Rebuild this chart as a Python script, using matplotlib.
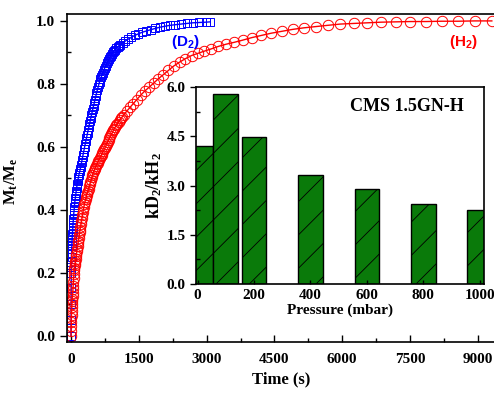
import numpy as np
import matplotlib
matplotlib.use("Agg")
import matplotlib.pyplot as plt
from matplotlib.ticker import MultipleLocator, FormatStrFormatter

plt.rcParams['font.family'] = ['Liberation Serif', 'DejaVu Serif']
plt.rcParams['font.weight'] = 'bold'
plt.rcParams['mathtext.default'] = 'regular'
plt.rcParams['hatch.linewidth'] = 0.6

# uptake curves
t_h2 = [0, 2, 4, 6, 8, 10, 13, 16, 20, 24, 28, 32, 37, 42, 47, 52, 58, 64, 70, 76,
        83, 90, 97, 104, 112, 120, 128, 136, 145, 153, 162, 171, 180, 189, 199,
        209, 219, 229, 240, 251, 262, 273, 285, 297, 309, 321, 334, 347, 360, 373,
        387, 401, 415, 429, 444, 459, 474, 489, 505, 521, 537, 553, 570, 587, 604,
        621, 639, 657, 675, 693, 712, 731, 750, 769, 789, 809, 829, 849, 870, 891,
        912, 933, 955, 977, 1000, 1025, 1050, 1077, 1105, 1135, 1165, 1230, 1300,
        1375, 1455, 1540, 1630, 1725, 1825, 1930, 2040, 2155, 2275, 2400, 2530,
        2665, 2805, 2950, 3100, 3260, 3430, 3610, 3800, 4000, 4210, 4430, 4660,
        4900, 5150, 5410, 5680, 5960, 6250, 6550, 6860, 7180, 7510, 7850, 8200,
        8560, 8930, 9310]
m_h2 = [0.000, 0.016, 0.030, 0.043, 0.055, 0.066, 0.080, 0.090, 0.100, 0.109, 0.118,
        0.127, 0.137, 0.147, 0.158, 0.170, 0.183, 0.197, 0.210, 0.216, 0.223, 0.230,
        0.237, 0.244, 0.252, 0.260, 0.268, 0.276, 0.285, 0.293, 0.302, 0.311, 0.320,
        0.328, 0.337, 0.346, 0.355, 0.364, 0.374, 0.383, 0.392, 0.401, 0.410, 0.418,
        0.426, 0.433, 0.440, 0.447, 0.454, 0.461, 0.467, 0.474, 0.481, 0.488, 0.496,
        0.503, 0.510, 0.517, 0.523, 0.529, 0.534, 0.539, 0.544, 0.549, 0.554, 0.559,
        0.564, 0.570, 0.575, 0.581, 0.586, 0.592, 0.597, 0.603, 0.609, 0.615, 0.621,
        0.627, 0.633, 0.640, 0.646, 0.652, 0.658, 0.663, 0.668, 0.674, 0.679, 0.685,
        0.690, 0.696, 0.702, 0.713, 0.725, 0.737, 0.750, 0.764, 0.777, 0.789, 0.802,
        0.816, 0.829, 0.843, 0.857, 0.869, 0.880, 0.890, 0.897, 0.904, 0.911, 0.919,
        0.926, 0.932, 0.939, 0.947, 0.954, 0.961, 0.967, 0.973, 0.978, 0.982, 0.986,
        0.990, 0.992, 0.994, 0.996, 0.997, 0.998, 0.998, 0.999, 0.999, 1.000, 1.000]

t_d2 = [0, 1, 2, 3, 5, 6, 8, 10, 12, 14, 17, 20, 23, 26, 30, 34, 38, 42, 47, 52, 57,
        62, 68, 74, 80, 86, 93, 100, 107, 114, 122, 130, 138, 146, 155, 164, 173,
        182, 192, 202, 212, 222, 233, 244, 255, 266, 278, 290, 302, 314, 327, 340,
        353, 366, 380, 394, 408, 422, 437, 452, 467, 482, 498, 514, 530, 546, 563,
        580, 597, 614, 632, 650, 668, 687, 706, 726, 746, 767, 788, 810, 832, 855,
        878, 902, 926, 951, 976, 1002, 1028, 1055, 1083, 1140, 1200, 1265, 1335,
        1410, 1490, 1575, 1665, 1760, 1860, 1965, 2075, 2190, 2310, 2435, 2565,
        2700, 2840, 2985, 3080]
m_d2 = [0.000, 0.050, 0.100, 0.150, 0.200, 0.218, 0.235, 0.249, 0.262, 0.274, 0.285,
        0.295, 0.305, 0.314, 0.323, 0.333, 0.343, 0.352, 0.362, 0.372, 0.382, 0.391,
        0.400, 0.410, 0.420, 0.428, 0.436, 0.444, 0.452, 0.460, 0.468, 0.476, 0.483,
        0.490, 0.497, 0.504, 0.511, 0.516, 0.522, 0.528, 0.535, 0.543, 0.551, 0.559,
        0.567, 0.575, 0.584, 0.592, 0.601, 0.609, 0.618, 0.627, 0.636, 0.645, 0.654,
        0.663, 0.673, 0.682, 0.692, 0.701, 0.711, 0.721, 0.731, 0.740, 0.750, 0.760,
        0.770, 0.780, 0.789, 0.798, 0.807, 0.815, 0.822, 0.829, 0.836, 0.844, 0.851,
        0.858, 0.865, 0.872, 0.878, 0.884, 0.889, 0.895, 0.900, 0.905, 0.909, 0.913,
        0.917, 0.921, 0.924, 0.930, 0.936, 0.942, 0.948, 0.954, 0.959, 0.964, 0.968,
        0.972, 0.976, 0.980, 0.983, 0.986, 0.988, 0.990, 0.992, 0.994, 0.995, 0.996,
        0.997]

# inset: ratio of rate constants vs pressure
pressure = [10, 100, 200, 400, 600, 800, 1000]
ratio = [4.22, 5.80, 4.48, 3.33, 2.91, 2.45, 2.25]

fig = plt.figure(figsize=(4.94, 3.94), dpi=100)
ax = fig.add_axes([0.1356, 0.132, 0.8664, 0.8325])

ax.plot(t_d2, m_d2, color='blue', lw=1, marker='s', ms=6, mfc='none',
        mec='blue', mew=0.7)
ax.plot(t_h2, m_h2, color='red', lw=1, marker='o', ms=7.5, mfc='none',
        mec='red', mew=0.7)

ax.set_xlim(-90, 9380)
ax.set_ylim(-0.02, 1.022)
ax.xaxis.set_major_locator(MultipleLocator(1500))
ax.xaxis.set_minor_locator(MultipleLocator(750))
ax.yaxis.set_major_locator(MultipleLocator(0.2))
ax.yaxis.set_minor_locator(MultipleLocator(0.1))
ax.yaxis.set_major_formatter(FormatStrFormatter('%.1f'))
ax.tick_params(axis='x', which='both', direction='in', labelsize=11, pad=8)
ax.tick_params(axis='x', which='major', length=5, width=1)
ax.tick_params(axis='x', which='minor', length=3, width=1)
ax.tick_params(axis='y', which='major', direction='out', length=5, width=1, labelsize=11)
ax.tick_params(axis='y', which='minor', direction='in', length=3, width=1)
for s in ax.spines.values():
    s.set_linewidth(1.2)
ax.set_xlabel('Time (s)', fontsize=12, fontweight='bold', labelpad=4)
ax.set_ylabel('M$_t$/M$_e$', fontsize=12, fontweight='bold')
ax.yaxis.set_label_coords(-0.11, 0.49)

ax.text(185 / 494, 1 - 42 / 394, '(D$_2$)', transform=fig.transFigure,
        color='blue', fontsize=11, family='Liberation Sans', ha='center', va='center')
ax.text(463 / 494, 1 - 42 / 394, '(H$_2$)', transform=fig.transFigure,
        color='red', fontsize=11, family='Liberation Sans', ha='center', va='center')

ins = fig.add_axes([0.397, 0.279, 0.583, 0.5])
ins.bar(pressure, ratio, width=88, color='#0a7a0a', edgecolor='black',
        linewidth=1, hatch='/')
ins.set_xlim(-5, 1015)
ins.set_ylim(0, 6.0)
ins.yaxis.set_major_locator(MultipleLocator(1.5))
ins.yaxis.set_minor_locator(MultipleLocator(0.75))
ins.yaxis.set_major_formatter(FormatStrFormatter('%.1f'))
ins.xaxis.set_major_locator(MultipleLocator(200))
ins.tick_params(axis='y', which='major', direction='out', length=4, width=1, labelsize=11)
ins.tick_params(axis='y', which='minor', direction='in', length=3, width=1)
ins.tick_params(axis='x', which='major', direction='in', length=3, width=1, labelsize=11)
for s in ins.spines.values():
    s.set_linewidth(1.2)
ins.set_xlabel('Pressure (mbar)', fontsize=11, fontweight='bold', labelpad=1)
ins.set_ylabel('kD$_2$/kH$_2$', fontsize=13, fontweight='bold', labelpad=2)
ins.text(0.93, 0.9, 'CMS 1.5GN-H', transform=ins.transAxes, fontsize=13,
         fontweight='bold', ha='right', va='center')

fig.savefig('out.png', dpi=100)
